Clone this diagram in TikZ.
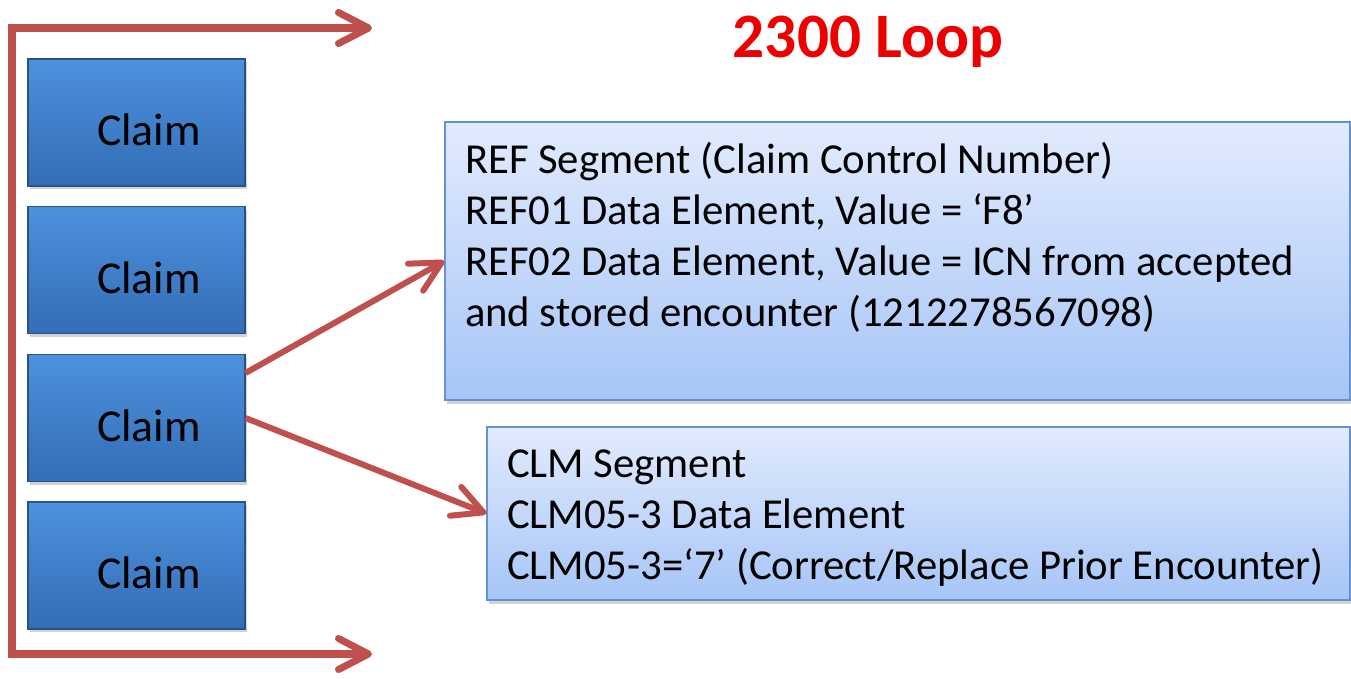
\documentclass[tikz,border=0pt]{standalone}
\usepackage{fontspec}
\setmainfont{Carlito}
\usetikzlibrary{arrows.meta,shadows}
\definecolor{arrowred}{HTML}{C0504D}
\definecolor{claimtop}{HTML}{4D91DD}
\definecolor{claimmid}{HTML}{3C7CC8}
\definecolor{claimbot}{HTML}{336DB6}
\definecolor{claimedge}{HTML}{2A5288}
\definecolor{infotop}{HTML}{E2EBFD}
\definecolor{infobot}{HTML}{A6C5F7}
\definecolor{infoedge}{HTML}{6592D2}
\definecolor{titlered}{RGB}{236,0,0}
\newcommand{\claimtext}{\hspace*{0.5cm}\raisebox{-0.15cm}[\height][\depth]{Claim}}
\begin{document}
\begin{tikzpicture}[
  claimbox/.style={draw=claimedge, line width=0.6pt, top color=claimtop, middle color=claimmid, bottom color=claimbot,
    minimum width=4.34cm, minimum height=2.54cm, inner sep=0pt,
    font=\fontsize{26}{31}\selectfont,
    drop shadow={shadow xshift=0.04cm, shadow yshift=-0.06cm, opacity=0.35}},
  infobox/.style={draw=infoedge, line width=0.8pt, top color=infotop, bottom color=infobot,
    inner sep=0pt, font=\fontsize{24.3}{29}\selectfont,
    drop shadow={shadow xshift=0.04cm, shadow yshift=-0.08cm, opacity=0.35}},
  barbtip/.tip={Straight Barb[length=0.6cm, width=0.62cm, round]},
  loopline/.style={draw=arrowred, line width=4pt, line join=miter, {barbtip}-{barbtip}},
  connector/.style={draw=arrowred, line width=3.4pt, -{barbtip}},
  title/.style={text=titlered, font=\fontsize{36}{43}\selectfont\bfseries}
]
\path[use as bounding box, fill=white] (0,0) rectangle (27.02,-13.56);

% loop bracket
\coordinate (toptip) at (7.44,-0.56);
\coordinate (topcorner) at (0.24,-0.56);
\coordinate (botcorner) at (0.24,-13.08);
\coordinate (bottip) at (7.44,-13.08);
\draw[loopline] (toptip) -- (topcorner) -- (botcorner) -- (bottip);

% title
\node[title] (ttl) at (17.36,-0.84) {2300 Loop};

% claims
\node[claimbox] (c1) at (2.73,-2.45) {\claimtext};
\node[claimbox] (c2) at (2.73,-5.40) {\claimtext};
\node[claimbox] (c3) at (2.73,-8.36) {\claimtext};
\node[claimbox] (c4) at (2.73,-11.31) {\claimtext};

% info boxes
\node[infobox, minimum width=18.1cm, minimum height=5.56cm] (ref) at (17.95,-5.22)
  {\parbox[c][5.56cm][t]{17.3cm}{\vspace*{0.32cm}\raggedright
   \strut REF Segment (Claim Control Number)\\
   REF01 Data Element, Value = ‘F8’\\
   REF02 Data Element, Value = ICN from accepted\\
   and stored encounter (1212278567098)}};

\node[infobox, minimum width=17.26cm, minimum height=3.46cm] (clm) at (18.37,-10.27)
  {\parbox[c][3.46cm][t]{16.46cm}{\vspace*{0.29cm}\raggedright
   \strut CLM Segment\\
   CLM05-3 Data Element\\
   CLM05-3=‘7’ (Correct/Replace Prior Encounter)}};

% connectors
\draw[connector] ([yshift=0.9cm]c3.east) -- (ref.west);
\draw[connector] (c3.east) -- (clm.west);
\end{tikzpicture}
\end{document}
